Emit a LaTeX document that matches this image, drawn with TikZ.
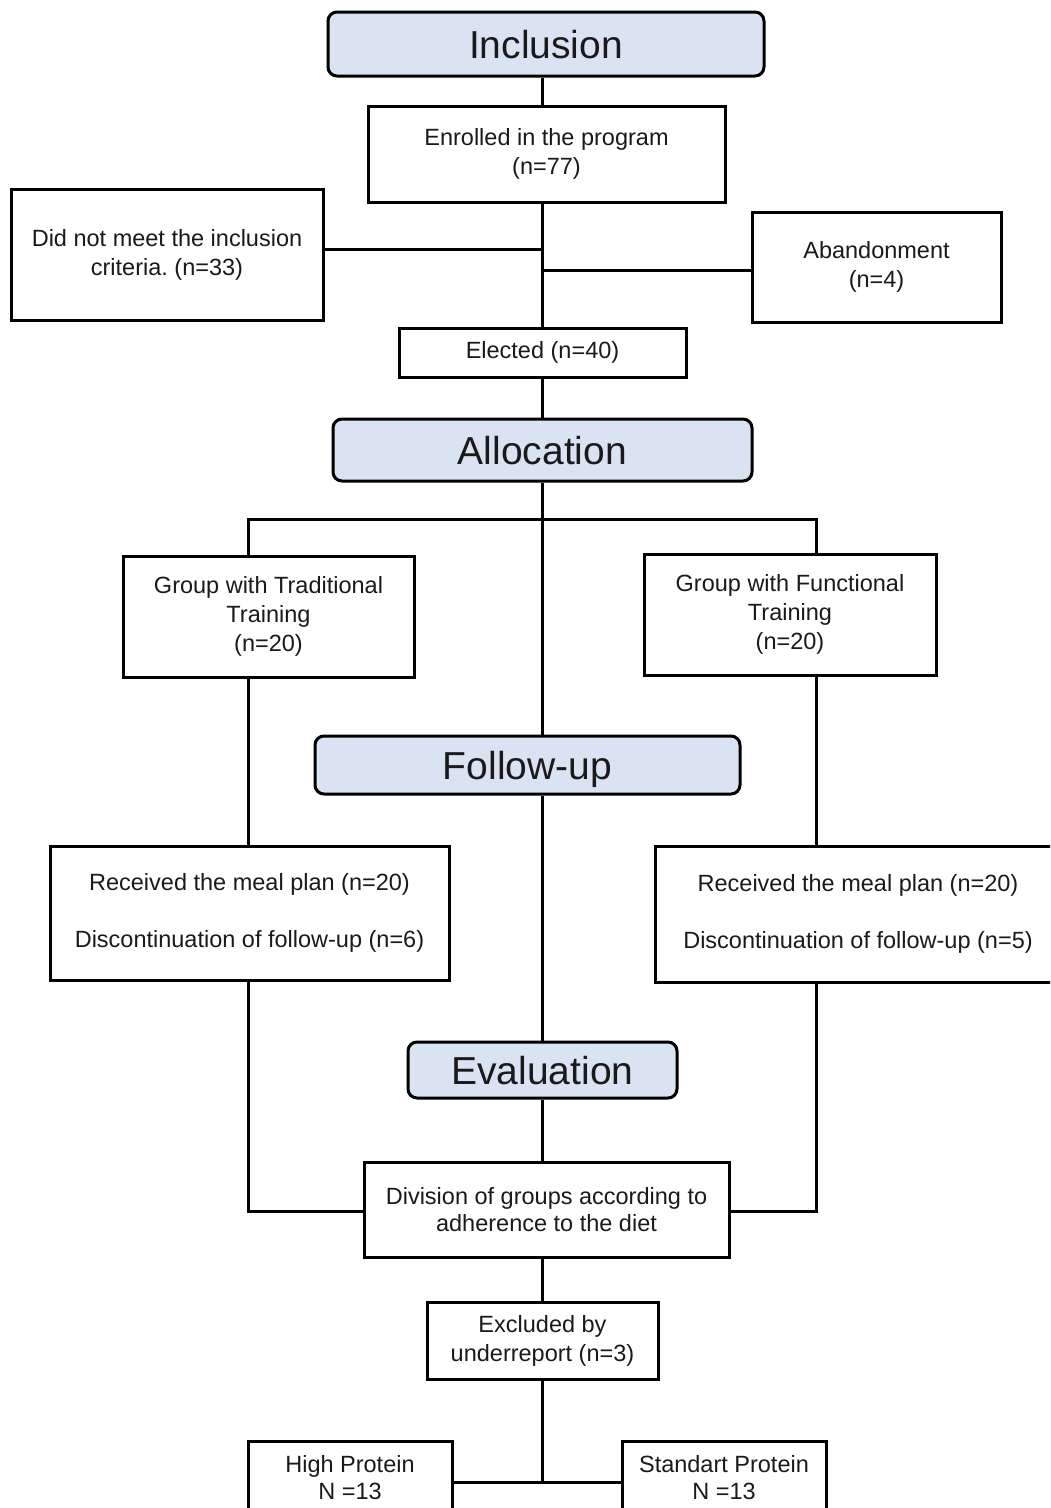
\documentclass[tikz,border=0pt]{standalone}
\usepackage{fontspec}
\setmainfont{Liberation Sans}
\frenchspacing
\definecolor{headblue}{HTML}{DAE3F1}
\definecolor{ink}{HTML}{1A1A1A}
\begin{document}
\begin{tikzpicture}[x=1pt,y=-1pt,line width=2.8pt,
  box/.style={draw=black,line width=3pt,rectangle,inner sep=0pt,align=center,text=ink,
              font=\frenchspacing\fontsize{23.5}{29}\selectfont},
  head/.style={draw=black,line width=3pt,rectangle,rounded corners=9pt,fill=headblue,inner sep=0pt,
              text=ink,text height=28pt,text depth=0pt,font=\fontsize{39}{44}\selectfont},
  conn/.style={draw=black,line width=3pt}]
\fill[white] (0,0) rectangle (1050,1508);
\useasboundingbox (0,0) rectangle (1050,1508);
\clip (0,0) rectangle (1050,1508);
% headers
\node[head,minimum width=436pt,minimum height=64pt] (incl) at (546,44) {Inclusion};
\node[head,minimum width=419pt,minimum height=62pt] (alloc) at (542.5,450) {Allocation};
\node[head,minimum width=425pt,minimum height=58pt] (fu) at (527.5,765) {Follow-up};
\node[head,minimum width=269pt,minimum height=56pt] (ev) at (542.5,1070) {Evaluation};
% boxes
\node[box,minimum width=357pt,minimum height=96pt] (enr) at (546.5,154) {Enrolled in the program\\(n=77)};
\node[box,minimum width=312pt,minimum height=131pt] (dnm) at (167,254.5) {Did not meet the inclusion\\criteria. (n=33)};
\node[box,minimum width=249pt,minimum height=110pt] (ab) at (876.5,267) {Abandonment\\(n=4)};
\node[box,minimum width=287pt,minimum height=49pt] (elec) at (542.5,352.5) {Elected (n=40)};
\node[box,minimum width=291pt,minimum height=121pt] (gt) at (268.5,616.5) {Group with Traditional\\Training\\(n=20)};
\node[box,minimum width=292pt,minimum height=121pt] (gf) at (790,614.5) {Group with Functional\\Training\\(n=20)};
\node[box,minimum width=399pt,minimum height=134pt] (rl) at (249.5,913) {Received the meal plan (n=20)\\[28pt]Discontinuation of follow-up (n=6)};
\node[box,minimum width=406pt,minimum height=136pt] (rr) at (858,914) {Received the meal plan (n=20)\\[28pt]Discontinuation of follow-up (n=5)};
\node[box,minimum width=365pt,minimum height=95pt,font=\fontsize{23.5}{27}\selectfont] (div) at (546.5,1209.5) {Division of groups according to\\adherence to the diet};
\node[box,minimum width=231pt,minimum height=77pt] (ex) at (542.5,1340.5) {Excluded by\\underreport (n=3)};
\node[box,minimum width=204pt,minimum height=74pt,font=\fontsize{23.5}{27}\selectfont] (hp) at (350,1478) {High Protein\\N =13};
\node[box,minimum width=204pt,minimum height=74pt,font=\fontsize{23.5}{27}\selectfont] (sp2) at (724,1478) {Standart Protein\\N =13};
% connector helper coordinates
\coordinate (sp) at (542,0);
\coordinate (lx) at (248,0);
\coordinate (rx) at (816,0);
\coordinate (j1) at (542,249);
\coordinate (j2) at (542,270);
\coordinate (br) at (0,519);
\coordinate (dy) at (0,1211);
\coordinate (hy) at (542,1482);
% connectors
\draw[conn] (sp |- incl.south) -- (sp |- enr.north);
\draw[conn] (sp |- enr.south) -- (sp |- elec.north);
\draw[conn] (dnm.east |- j1) -- (j1);
\draw[conn] (j2) -- (ab.west |- j2);
\draw[conn] (sp |- elec.south) -- (sp |- alloc.north);
\draw[conn] (sp |- alloc.south) -- (sp |- fu.north);
\draw[conn] (lx |- gt.north) -- (lx |- br) -- (rx |- br) -- (rx |- gf.north);
\draw[conn] (lx |- gt.south) -- (lx |- rl.north);
\draw[conn] (rx |- gf.south) -- (rx |- rr.north);
\draw[conn] (sp |- fu.south) -- (sp |- ev.north);
\draw[conn] (sp |- ev.south) -- (sp |- div.north);
\draw[conn] (lx |- rl.south) -- (lx |- dy) -- (div.west |- dy);
\draw[conn] (rx |- rr.south) -- (rx |- dy) -- (div.east |- dy);
\draw[conn] (sp |- div.south) -- (sp |- ex.north);
\draw[conn] (sp |- ex.south) -- (hy);
\draw[conn] (hp.east |- hy) -- (sp2.west |- hy);
\end{tikzpicture}
\end{document}
